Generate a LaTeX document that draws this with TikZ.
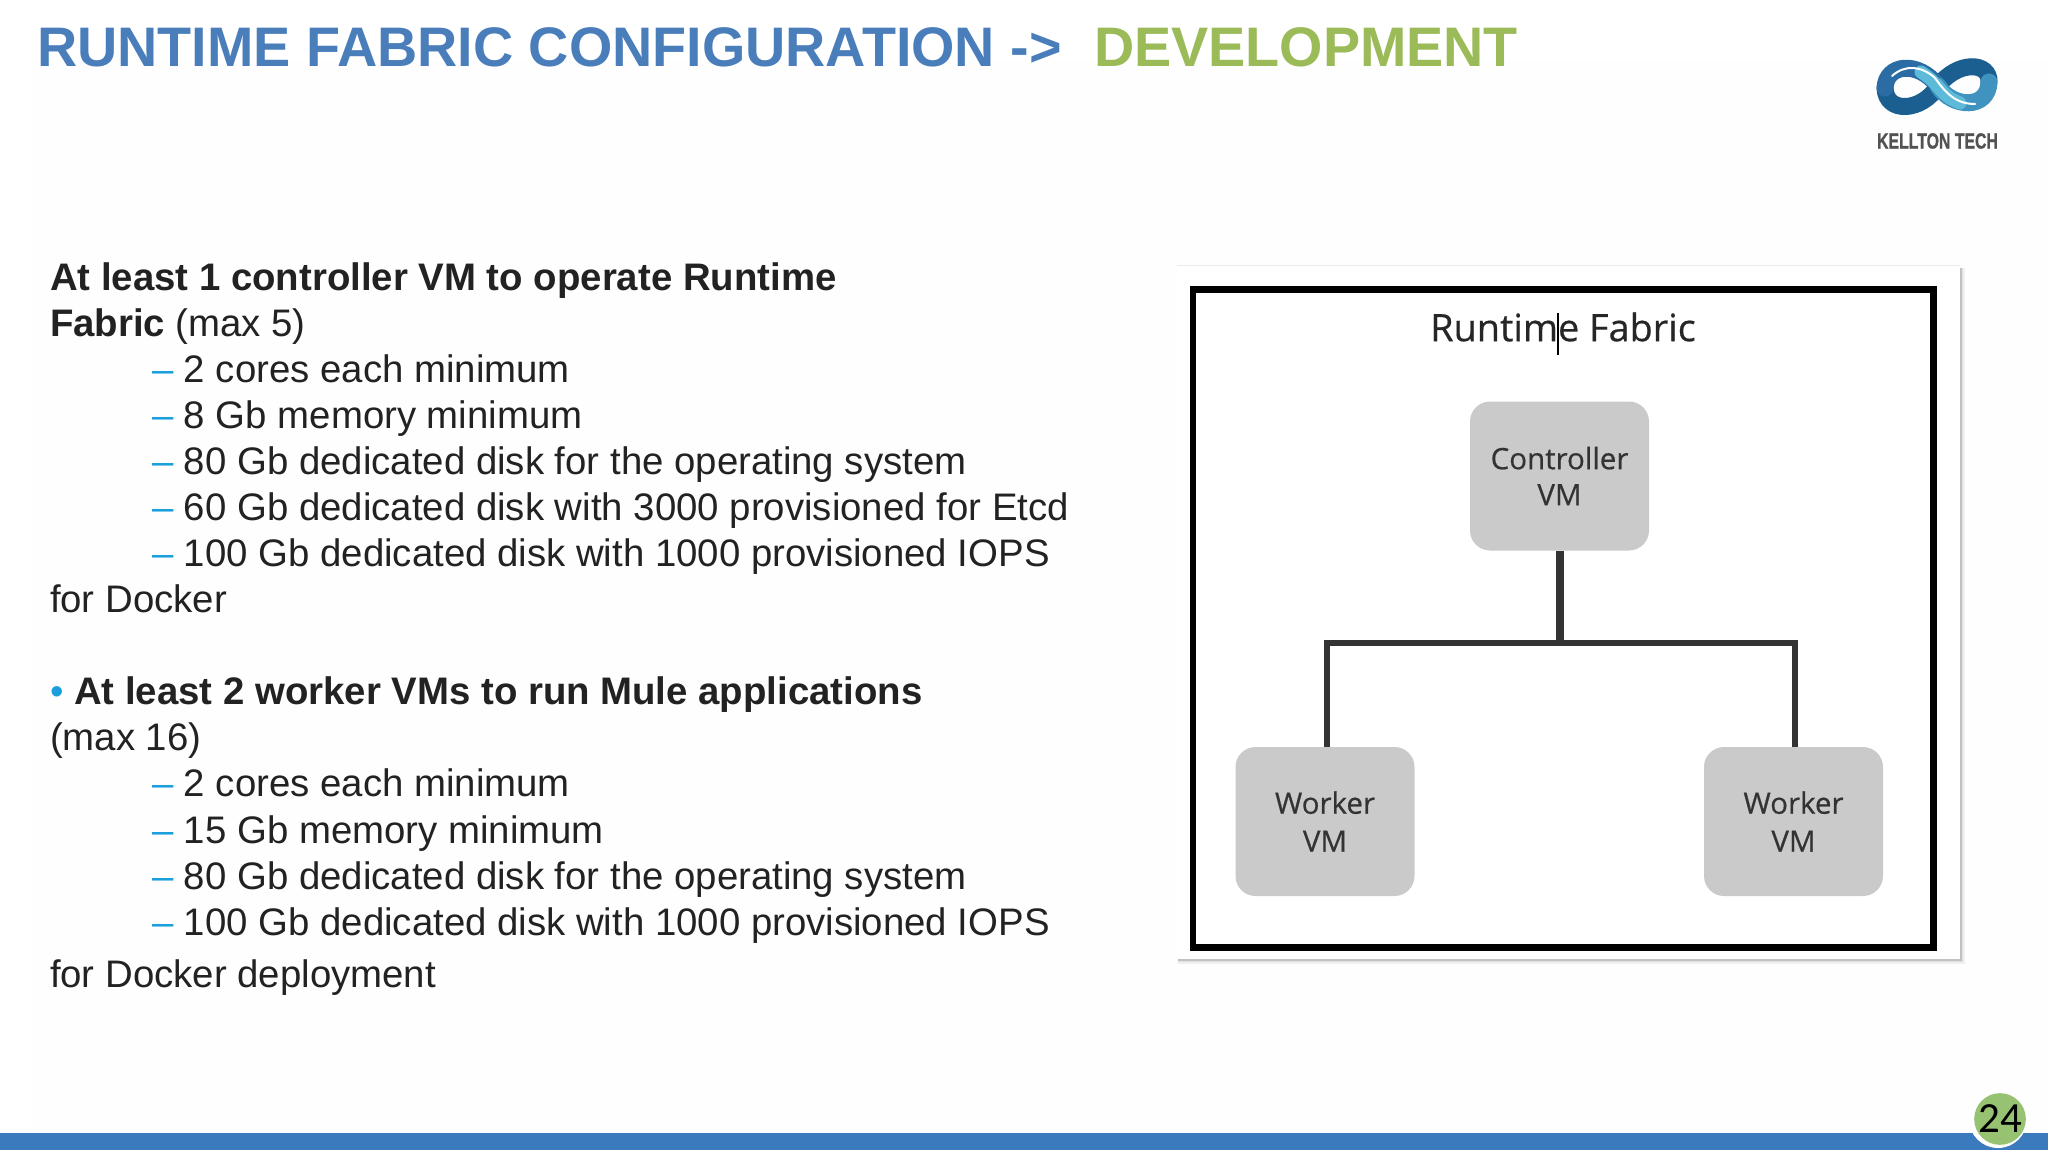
\documentclass[tikz,border=0pt]{standalone}
\usepackage{fontspec}
\setmainfont{Liberation Sans}
\newfontfamily\diagfont[FakeBold=0.5]{Open Sans}
\newfontfamily\numfont{Carlito}
\newfontfamily\logofont[FakeBold=1.2]{Liberation Sans Bold}
\usetikzlibrary{calc}
\definecolor{bodyc}{HTML}{222222}
\definecolor{dashc}{HTML}{1A9FDC}
\definecolor{titleb}{HTML}{4A7EBB}
\definecolor{titleg}{HTML}{9BBB59}
\definecolor{boxc}{HTML}{CBCACB}
\definecolor{linec}{HTML}{333333}
\definecolor{barc}{HTML}{3A7ABD}
\definecolor{badge}{HTML}{97C272}
\definecolor{logol}{HTML}{2B6CA5}
\definecolor{logod}{HTML}{1B5F90}
\definecolor{logom}{HTML}{3F93BE}
\definecolor{logoc}{HTML}{5DBAD8}
\newcommand{\dsh}{{\color{dashc}–}\ }
\tikzset{
  txt/.style={anchor=base west,inner sep=0pt,outer sep=0pt,text=bodyc,font=\fontsize{38.36}{46}\selectfont},
  ttl/.style={anchor=base west,inner sep=0pt,outer sep=0pt,font=\fontsize{55.7}{60}\selectfont\bfseries},
  vm/.style={draw=none,fill=boxc,rounded corners=20pt,minimum width=179pt,minimum height=149pt,inner sep=0pt,align=center,text=linec,font=\diagfont\fontsize{29.5}{36}\selectfont},
  wvm/.style={vm,font=\diagfont\fontsize{29.5}{38}\selectfont},
  wire/.style={draw=linec,line width=5.5pt},
}
\begin{document}
\begin{tikzpicture}[x=1pt,y=-1pt]
\useasboundingbox (0,0) rectangle (2048,1152);
\fill[white] (0,0) rectangle (2048,1152);
\fill[black!0.5] (30,60) rectangle (2048,1132);
% title
\node[ttl,text=titleb] (t1) at (37,66) {RUNTIME FABRIC CONFIGURATION ->};
\node[ttl,text=titleg] (t2) at (1094,66) {DEVELOPMENT};
% logo
\begin{scope}[line cap=round]
\draw[line width=17pt,draw=logod] (1989,82) .. controls (1990,62) and (1958,60) .. (1938,86) .. controls (1922,112) and (1886,114) .. (1885,88);
\draw[line width=17pt,draw=logol] (1885,88) .. controls (1886,64) and (1918,60) .. (1938,86);
\draw[line width=17pt,draw=logom] (1938,86) .. controls (1952,108) and (1988,110) .. (1989,82);
\draw[line width=13pt,draw=logoc] (1921,72) .. controls (1930,78) and (1934,82) .. (1940,89) .. controls (1946,96) and (1952,100) .. (1960,103);
\draw[line width=2pt,draw=white] (1892,76) .. controls (1905,64) and (1922,66) .. (1935,78);
\draw[line width=2pt,draw=white] (1935,78) .. controls (1945,92) and (1955,104) .. (1975,104);
\end{scope}
\node[inner sep=0pt,text=black!68,xscale=0.72,font=\logofont\fontsize{22}{22}\selectfont] (logo) at (1937.5,141) {KELLTON TECH};
% body
\node[txt] (a1) at (50,290) {\bfseries At least 1 controller VM to operate Runtime};
\node[txt] (a2) at (50,336) {\textbf{Fabric} (max 5)};
\node[txt] (a3) at (152,382) {\dsh 2 cores each minimum};
\node[txt] (a4) at (152,428) {\dsh 8 Gb memory minimum};
\node[txt] (a5) at (152,474) {\dsh 80 Gb dedicated disk for the operating system};
\node[txt] (a6) at (152,520) {\dsh 60 Gb dedicated disk with 3000 provisioned for Etcd};
\node[txt] (a7) at (152,566) {\dsh 100 Gb dedicated disk with 1000 provisioned IOPS};
\node[txt] (a8) at (50,612.5) {for Docker};
\node[txt] (b1) at (50,704) {{\color{dashc}•} \textbf{At least 2 worker VMs to run Mule applications}};
\node[txt] (b2) at (50,750.5) {(max 16)};
\node[txt] (b3) at (152,796.5) {\dsh 2 cores each minimum};
\node[txt] (b4) at (152,843) {\dsh 15 Gb memory minimum};
\node[txt] (b5) at (152,889) {\dsh 80 Gb dedicated disk for the operating system};
\node[txt] (b6) at (152,935) {\dsh 100 Gb dedicated disk with 1000 provisioned IOPS};
\node[txt] (b7) at (50,987) {for Docker deployment};
% panel
\fill[black!6] (1178,268) rectangle (1965,964);
\fill[black!12] (1178,268) rectangle (1963,962);
\fill[black!24] (1178,268) rectangle (1961.5,960.5);
\fill[white] (1176.5,265) rectangle (1959.5,958.5);
\draw[black!8,line width=1pt] (1176.5,265) -- (1959.5,265);
\draw[black,line width=6.5pt] (1193,289.5) rectangle (1933.5,947.5);
\node[inner sep=0pt,text=black!85,font=\diagfont\fontsize{37.8}{40}\selectfont] (rt) at (1563,327) {Runtime Fabric};
\draw[black,line width=1.8pt] (1558,313) -- (1558,355);
\node[vm] (ctrl) at (1559.5,476) {Controller\\VM};
\node[wvm] (wl) at (1325,821.5) {Worker\\VM};
\node[wvm] (wr) at (1793.5,821.5) {Worker\\VM};
\coordinate (j) at (1558,643);
\draw[wire,line width=8pt] (ctrl.south) -- (ctrl.south |- j);
\draw[wire,line width=6pt,line cap=butt] ([xshift=2pt]wl.north) |- (j) -| ([xshift=1pt]wr.north);
% footer
\fill[barc] (0,1133) rectangle (2048,1150);
\fill[white] (1998,1119) circle (29);
\node[circle,fill=badge,minimum size=49pt,inner sep=0pt,text=black,font=\numfont\fontsize{43}{43}\selectfont] (pg) at (2000,1119) {24};
\end{tikzpicture}
\end{document}
